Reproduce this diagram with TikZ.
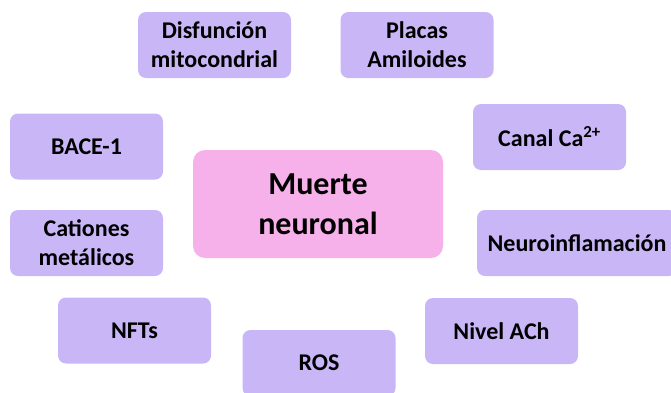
\documentclass[tikz,border=0pt]{standalone}
\usepackage{fontspec}
\setmainfont{Carlito}
\definecolor{lila}{RGB}{200,182,247}
\definecolor{rosa}{RGB}{246,176,234}
\tikzset{
  causa/.style={fill=lila, rounded corners=8pt, minimum width=153pt,
    minimum height=66pt, inner sep=0pt, align=center,
    font=\bfseries\fontsize{24}{29}\selectfont},
  centro/.style={fill=rosa, rounded corners=12pt, minimum width=250pt,
    minimum height=108pt, inner sep=0pt, align=center,
    font=\bfseries\fontsize{32}{40}\selectfont}
}
\begin{document}
\begin{tikzpicture}[x=1pt,y=-1pt]
      \clip (0,0) rectangle (671,392);
      \draw
        (318,204) node[centro] (muerte){Muerte\\neuronal}
        (214.5,45) node[causa] (disf){Disfunción\\mitocondrial}
        (417,45) node[causa] (placas){Placas\\Amiloides}
        (86.5,146.5) node[causa] (bace){BACE-1}
        (549.5,137) node[causa] (canal){Canal Ca\textsuperscript{2+}}
        (86.5,243) node[causa] (cationes){Cationes\\metálicos}
        (577,243) node[causa, minimum width=200pt] (neuro){Neuroinflamación}
        (134.5,330.5) node[causa] (nfts){NFTs}
        (501.5,331) node[causa] (nivel){Nivel ACh}
        (319,363) node[causa] (ros){ROS};
    \end{tikzpicture}
\end{document}
